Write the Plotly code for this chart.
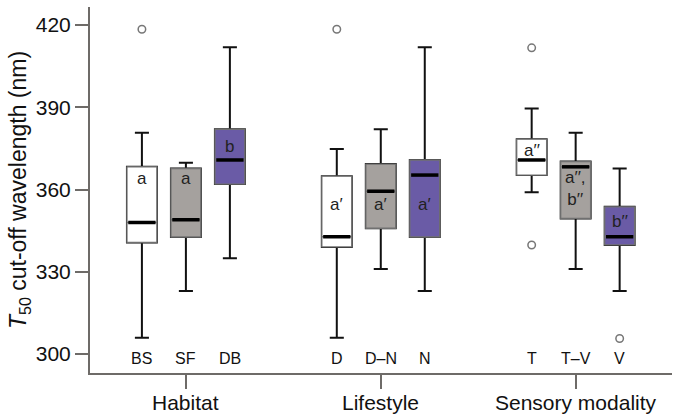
import plotly.graph_objects as go

categories = ["BS", "SF", "DB", "D", "D–N", "N", "T", "T–V", "V"]
groups = ["Habitat", "Lifestyle", "Sensory modality"]
lower = [306.0, 323.0, 335.0, 306.0, 331.0, 323.0, 359.0, 331.0, 323.0]
q1 = [340.7, 342.7, 362.0, 339.1, 345.9, 342.7, 365.3, 349.5, 339.8]
median = [348.0, 349.0, 370.8, 342.8, 359.4, 365.3, 370.8, 368.3, 342.8]
q3 = [368.3, 367.7, 382.0, 364.9, 369.3, 370.8, 378.4, 370.2, 353.7]
upper = [380.7, 369.8, 411.9, 374.8, 382.0, 411.9, 389.6, 380.7, 367.7]
outlier_cat = ["BS", "D", "T", "T", "V"]
outlier_val = [418.5, 418.5, 411.7, 339.8, 305.7]
letters = ["a", "a", "b", "a′", "a′", "a′", "a′′", "a′′,<br>b′′", "b′′"]
letter_y = [363.9, 363.9, 375.9, 354.4, 354.4, 354.4, 374.4, 360.3, 348.3]
yticks = [300, 330, 360, 390, 420]

GROUP_STRIDE = 4.43
pos = [g * GROUP_STRIDE + i for g in range(3) for i in range(3)]
pos_of = dict(zip(categories, pos))
group_pos = [g * GROUP_STRIDE + 1 for g in range(3)]

fills = ["#ffffff", "#a5a19e", "#6a5ba6"]
BOXW = 0.68
AX = "#6e6b68"
FONT = "Liberation Sans, Arial"

fig = go.Figure()

# whiskers (black) for all boxes
fig.add_trace(go.Box(
    x=pos, q1=q1, median=median, q3=q3, lowerfence=lower, upperfence=upper,
    width=BOXW, whiskerwidth=0.47, line=dict(color="#111111", width=2),
    fillcolor="rgba(0,0,0,0)", boxpoints=False, hoverinfo="skip", showlegend=False))

# filled boxes with thin grey outline
for k in range(3):
    idx = [j for j in range(len(categories)) if j % 3 == k]
    fig.add_trace(go.Box(
        x=[pos[j] for j in idx], q1=[q1[j] for j in idx], median=[median[j] for j in idx],
        q3=[q3[j] for j in idx], lowerfence=[q1[j] for j in idx], upperfence=[q3[j] for j in idx],
        width=BOXW, whiskerwidth=0, line=dict(color="#707070", width=1.3),
        fillcolor=fills[k], boxpoints=False, hoverinfo="skip", showlegend=False))

# thick medians
mx, my = [], []
for p, m in zip(pos, median):
    mx += [p - BOXW / 2 + 0.03, p + BOXW / 2 - 0.03, None]
    my += [m, m, None]
fig.add_trace(go.Scatter(x=mx, y=my, mode="lines", line=dict(color="#000000", width=3.5),
                         hoverinfo="skip", showlegend=False))

# outliers
fig.add_trace(go.Scatter(x=[pos_of[c] for c in outlier_cat], y=outlier_val, mode="markers",
                         marker=dict(symbol="circle-open", size=7.5, color="#777777",
                                     line=dict(width=1.5, color="#777777")),
                         hoverinfo="skip", showlegend=False))

# invisible trace so the group axis is drawn
fig.add_trace(go.Scatter(x=[group_pos[0]], y=[300], xaxis="x2", mode="markers",
                         marker=dict(opacity=0), hoverinfo="skip", showlegend=False))

for p, t, ly in zip(pos, letters, letter_y):
    fig.add_annotation(x=p, y=ly, text=t, showarrow=False,
                       font=dict(size=17, color="#222222", family=FONT))

for p, c in zip(pos, categories):
    fig.add_annotation(x=p, y=0, xref="x", yref="paper", yanchor="bottom", yshift=4,
                       text=c, showarrow=False, font=dict(size=16, color="#111111", family=FONT))

for p, g in zip(group_pos, groups):
    fig.add_annotation(x=p, y=0, xref="x", yref="paper", yanchor="top", yshift=-16,
                       text=g, showarrow=False, font=dict(size=21, color="#111111", family=FONT))

xr = [-1.18, 12.05]
fig.update_layout(
    width=675, height=414,
    margin=dict(l=90, r=3, t=7, b=41),
    paper_bgcolor="white", plot_bgcolor="white",
    boxmode="overlay",
    font=dict(family=FONT, color="#111111"),
    xaxis=dict(range=xr, showticklabels=False, ticks="", showline=True, linecolor=AX,
               linewidth=2, showgrid=False, zeroline=False),
    xaxis2=dict(range=xr, overlaying="x", side="bottom", anchor="y", tickvals=group_pos,
                showticklabels=False, ticks="outside", ticklen=15, tickwidth=2, tickcolor=AX,
                showline=False, showgrid=False, zeroline=False),
    yaxis=dict(range=[293.1, 426.6], tickvals=yticks, ticks="outside", ticklen=13,
               tickwidth=2, tickcolor=AX, showline=True, linecolor=AX, linewidth=2,
               showgrid=False, zeroline=False, tickfont=dict(size=21, color="#111111"),
               title=dict(text="<i>T</i><sub>50</sub> cut-off wavelength (nm)",
                          font=dict(size=23, color="#111111"), standoff=3)),
)

fig.write_html("out.html", config={"displayModeBar": False},
               post_script="document.body.style.margin='0';")
